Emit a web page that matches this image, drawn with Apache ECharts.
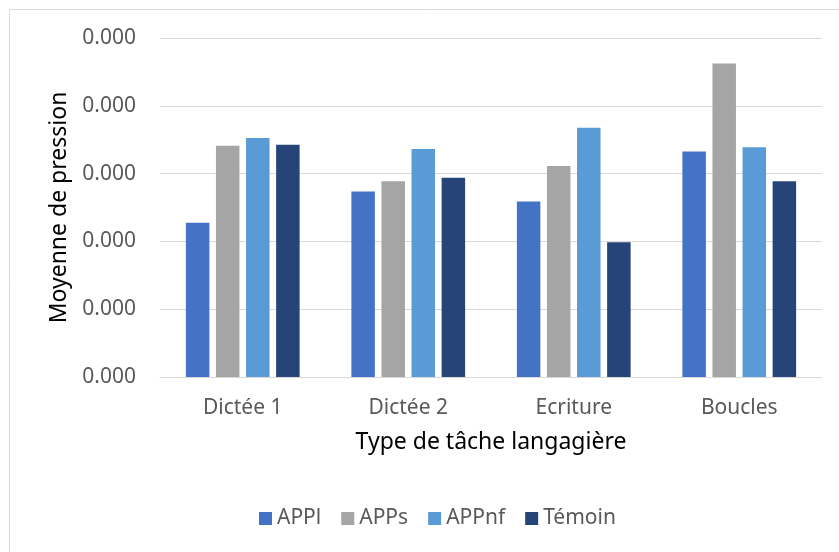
<!DOCTYPE html>
<html>
<head>
<meta charset="utf-8">
<script src="https://cdn.jsdelivr.net/npm/echarts@6/dist/echarts.min.js"></script>
<style>
  html, body { margin: 0; padding: 0; background: #fff; }
  #chart { width: 839px; height: 552px; }
</style>
</head>
<body>
<div id="chart"></div>
<script>
// task categories and group names
const categories = ['Dictée 1', 'Dictée 2', 'Ecriture', 'Boucles']
const groups = ['APPl', 'APPs', 'APPnf', 'Témoin']

// mean pressure per group (every tick shows 0.000)
const applValues = [0.000182, 0.000219, 0.000207, 0.000266]
const appsValues = [0.000273, 0.000231, 0.000249, 0.000370]
const appnfValues = [0.000282, 0.000269, 0.000294, 0.000271]
const temoinValues = [0.000274, 0.000235, 0.000159, 0.000231]

const colors = ['#4472C4', '#A5A5A5', '#5B9BD5', '#264478']
const seriesValues = [applValues, appsValues, appnfValues, temoinValues]

const chart = echarts.init(document.getElementById('chart'))

chart.setOption({
  animation: false,
  backgroundColor: '#fff',
  color: colors,
  graphic: [
    {
      type: 'rect',
      silent: true,
      shape: { x: 9.5, y: 9.5, width: 900, height: 600 },
      style: { fill: 'none', stroke: '#d9d9d9', lineWidth: 1 },
    },
  ],
  grid: { left: 160, right: 17, top: 38, bottom: 175 },
  legend: {
    data: groups,
    left: 254,
    top: 503,
    itemWidth: 13,
    itemHeight: 13,
    itemGap: 20,
    icon: 'rect',
    textStyle: { color: '#595959', fontSize: 21, fontFamily: 'Noto Sans' },
  },
  xAxis: {
    type: 'category',
    data: categories,
    name: 'Type de tâche langagière',
    nameLocation: 'middle',
    nameGap: 54,
    nameTextStyle: { color: '#000', fontSize: 23, fontFamily: 'Noto Sans' },
    axisLine: { lineStyle: { color: '#d9d9d9', width: 1 } },
    axisTick: { show: false },
    axisLabel: { color: '#595959', fontSize: 21, fontFamily: 'Noto Sans', margin: 21 },
  },
  yAxis: {
    type: 'value',
    min: 0,
    max: 0.0004,
    interval: 0.00008,
    name: 'Moyenne de pression',
    nameLocation: 'middle',
    nameGap: 89,
    nameTextStyle: { color: '#000', fontSize: 23, fontFamily: 'Noto Sans' },
    axisLine: { show: false },
    axisTick: { show: false },
    axisLabel: {
      color: '#595959',
      fontSize: 21,
      fontFamily: 'Noto Sans',
      margin: 24,
      formatter: (v) => v.toFixed(3),
    },
    splitLine: { lineStyle: { color: '#d9d9d9', width: 1 } },
  },
  series: groups.map((name, i) => ({
    name,
    type: 'bar',
    barWidth: 23.5,
    barGap: '28%',
    itemStyle: { color: colors[i] },
    data: seriesValues[i],
  })),
})
</script>
</body>
</html>
